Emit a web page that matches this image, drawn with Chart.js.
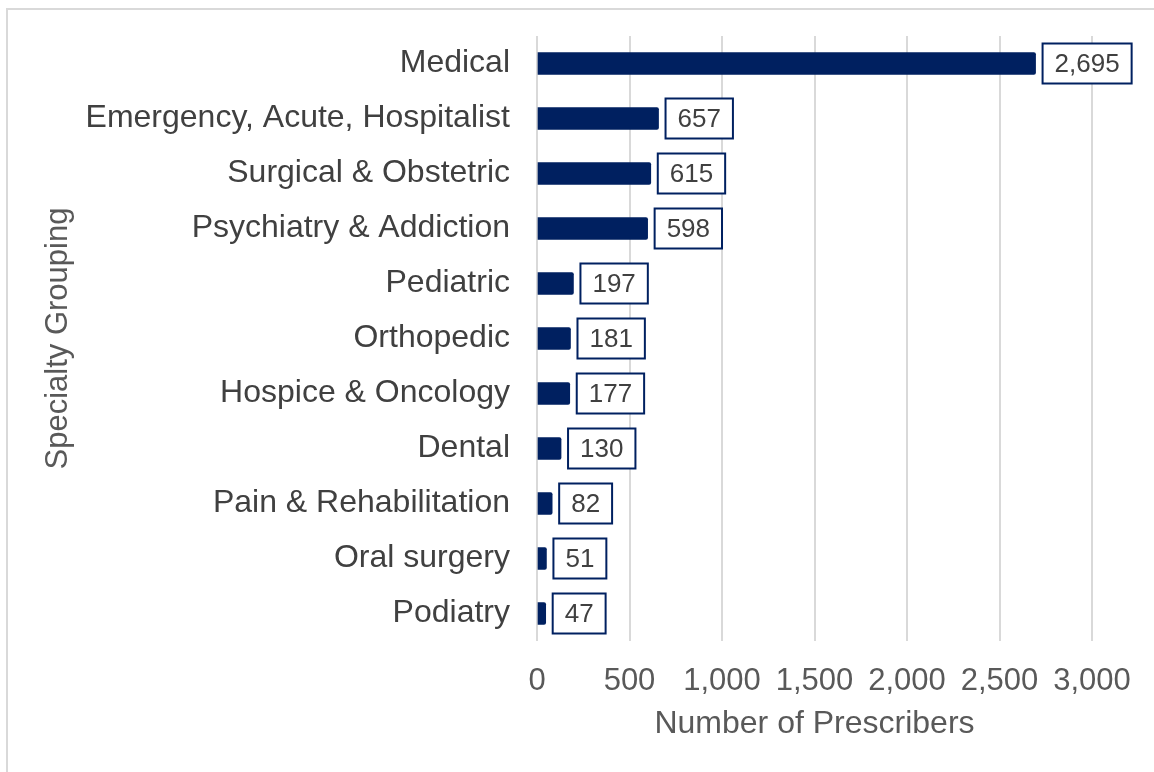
<!DOCTYPE html>
<html>
<head>
<meta charset="utf-8">
<script src="https://cdn.jsdelivr.net/npm/chart.js@4"></script>
<style>
  html, body { margin: 0; padding: 0; background: #fff; }
  #wrap { position: relative; width: 1154px; height: 772px; overflow: hidden; }
  #frame { position: absolute; left: 6px; top: 8px; width: 1160px; height: 780px; border: 2px solid #d9d9d9; box-sizing: border-box; }
  #prescriberChart { position: absolute; left: 0; top: 0; }
</style>
</head>
<body>
<div id="wrap">
  <div id="frame"></div>
  <canvas id="prescriberChart" width="1154" height="772"></canvas>
</div>
<script>
// specialty groupings, top to bottom
const categories = ['Medical', 'Emergency, Acute, Hospitalist', 'Surgical & Obstetric', 'Psychiatry & Addiction',
    'Pediatric', 'Orthopedic', 'Hospice & Oncology', 'Dental', 'Pain & Rehabilitation', 'Oral surgery', 'Podiatry'];
const prescribers = [2695, 657, 615, 598, 197, 181, 177, 130, 82, 51, 47];
const xTicks = [0, 500, 1000, 1500, 2000, 2500, 3000];

const navy = '#002060';
const fontFamily = "'Liberation Sans', Arial, sans-serif";

// boxed value labels to the right of each bar
const boxLabels = {
    id: 'boxLabels',
    afterDatasetsDraw(chart) {
        const ctx = chart.ctx;
        const meta = chart.getDatasetMeta(0);
        ctx.save();
        ctx.font = '26px ' + fontFamily;
        ctx.textAlign = 'center';
        ctx.textBaseline = 'middle';
        meta.data.forEach(function (bar, i) {
            const txt = prescribers[i].toLocaleString('en-US');
            const w = ctx.measureText(txt).width + 24;
            const h = 40;
            const left = bar.x + 7;
            ctx.fillStyle = '#fff';
            ctx.fillRect(left, bar.y - h / 2, w, h);
            ctx.lineWidth = 2;
            ctx.strokeStyle = navy;
            ctx.strokeRect(left, bar.y - h / 2, w, h);
            ctx.fillStyle = '#404040';
            ctx.fillText(txt, left + w / 2, bar.y + 1);
        });
        ctx.restore();
    }
};

var ctx = document.getElementById('prescriberChart').getContext('2d');
var prescriberChart = new Chart(ctx, {
    type: 'bar',
    data: {
        labels: categories,
        datasets: [{
            label: 'Number of Prescribers',
            data: prescribers,
            backgroundColor: navy,
            barThickness: 22,
            borderRadius: 2,
            borderSkipped: 'start'
        }]
    },
    options: {
        indexAxis: 'y',
        responsive: false,
        animation: false,
        layout: {
            padding: { top: 36, right: 62, left: 0, bottom: 0 }
        },
        plugins: {
            legend: { display: false },
            tooltip: { enabled: false }
        },
        scales: {
            x: {
                min: 0,
                max: 3000,
                afterBuildTicks: function (scale) {
                    scale.ticks = xTicks.map(function (v) { return { value: v }; });
                },
                afterFit: function (scale) { scale.height = 131; },
                grid: { color: '#d9d9d9', lineWidth: 2, drawTicks: false },
                border: { display: false },
                ticks: {
                    padding: 22,
                    color: '#595959',
                    font: { family: fontFamily, size: 31 },
                    maxRotation: 0,
                    callback: function (v) { return v.toLocaleString('en-US'); }
                },
                title: {
                    display: true,
                    text: 'Number of Prescribers',
                    color: '#595959',
                    font: { family: fontFamily, size: 32 },
                    padding: { top: 0, bottom: 29 }
                }
            },
            y: {
                afterFit: function (scale) { scale.width = 537; },
                grid: { display: false, drawTicks: true, tickLength: 27 },
                border: { display: false },
                ticks: {
                    padding: 0,
                    color: '#404040',
                    font: { family: fontFamily, size: 32 }
                },
                title: {
                    display: true,
                    text: 'Specialty Grouping',
                    color: '#595959',
                    font: { family: fontFamily, size: 31 },
                    padding: { top: 40, bottom: 0 }
                }
            }
        }
    },
    plugins: [boxLabels]
});
</script>
</body>
</html>
